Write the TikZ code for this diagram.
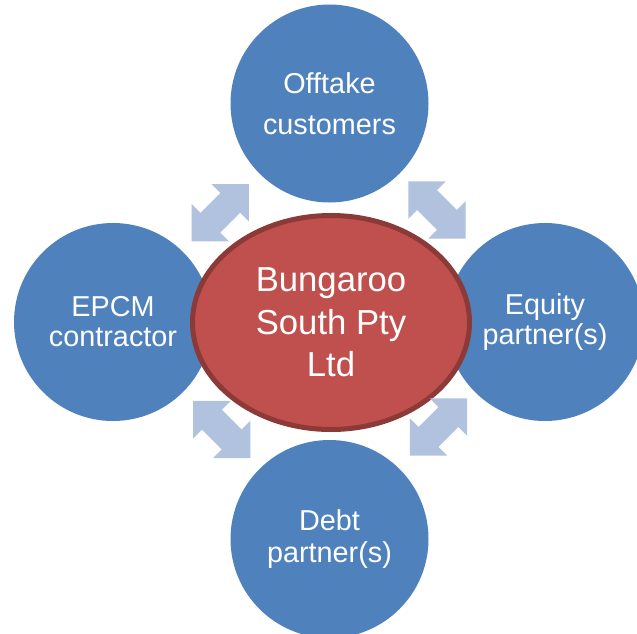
\documentclass[tikz,border=0pt]{standalone}
\usepackage{fontspec}
\setmainfont{Liberation Sans}
\usetikzlibrary{shapes.geometric}
\definecolor{partyblue}{HTML}{4F81BD}
\definecolor{hubred}{HTML}{C0504D}
\definecolor{hubedge}{HTML}{8C3A38}
\definecolor{linkblue}{HTML}{B0C2DE}
\tikzset{
  party/.style={circle, fill=partyblue, draw=none, inner sep=0pt,
    minimum size=198pt, text=white, align=center},
  partyfont/.style={font=\fontsize{28.8}{#1}\selectfont},
  hub/.style={ellipse, fill=hubred, draw=hubedge, line width=5pt,
    minimum width=277pt, minimum height=214pt, inner sep=0pt,
    text=white, align=center, font=\fontsize{34.7}{42.5}\selectfont},
  pics/dblarrow/.style={code={
    \fill[linkblue] (40.5,0) -- (14,26.5) -- (14,14) -- (-14,14) -- (-14,26.5)
      -- (-40.5,0) -- (-14,-26.5) -- (-14,-14) -- (14,-14) -- (14,-26.5) -- cycle;
  }}
}
\begin{document}
\begin{tikzpicture}[x=1pt, y=-1pt]
  \useasboundingbox (0,0) rectangle (637,634);
  \clip (0,0) rectangle (637,634);

  % surrounding parties
  \node[party, partyfont=41] (offtake) at (329.5,103.5) {Offtake\\customers};
  \node[party, partyfont=30] (epcm)    at (113,322)     {EPCM\\contractor};
  \node[party, partyfont=29.5] (equity) at (545,322)   {Equity\\partner(s)};
  \node[party, partyfont=32] (debt)    at (329.5,539)   {Debt\\partner(s)};

  % central company
  \node[hub] (hub) at (331,322.5) {Bungaroo\\South Pty\\Ltd};

  % two-way links between the company and each party
  \coordinate (lnkTL) at (220.3,212.8);
  \coordinate (lnkTR) at (437,210);
  \coordinate (lnkBL) at (221.8,429.5);
  \coordinate (lnkBR) at (438.5,427);
  \pic[rotate=45]  at (lnkTL) {dblarrow};
  \pic[rotate=-45] at (lnkTR) {dblarrow};
  \pic[rotate=-45] at (lnkBL) {dblarrow};
  \pic[rotate=45]  at (lnkBR) {dblarrow};
\end{tikzpicture}
\end{document}
